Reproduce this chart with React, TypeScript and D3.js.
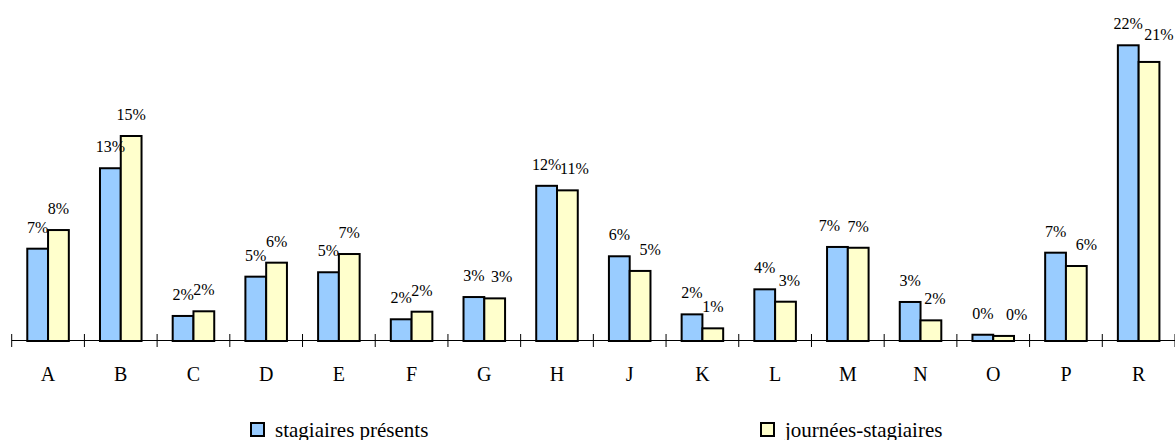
import React from "react";
import * as d3 from "d3";

// values in percent
const categories = ["A", "B", "C", "D", "E", "F", "G", "H", "J", "K", "L", "M", "N", "O", "P", "R"];
const stagiairesPresents = [6.93, 12.97, 1.88, 4.83, 5.16, 1.63, 3.3, 11.65, 6.36, 2.0, 3.88, 7.06, 2.93, 0.47, 6.63, 22.2];
const journeesStagiaires = [8.33, 15.39, 2.23, 5.88, 6.53, 2.2, 3.2, 11.31, 5.26, 0.95, 2.95, 7.0, 1.55, 0.38, 5.63, 20.95];
const seriesNames = ["stagiaires présents", "journées-stagiaires"];
const seriesColors = ["#99CCFF", "#FFFFCC"];

// label shifts that the original renderer applied to avoid collisions
const labelShift: Array<Record<string, [number, number]>> = [
  { M: [-8, 0] },
  { G: [7, 0], H: [7, 0], J: [10, 0], L: [4, 0], N: [4, 0], O: [13, 0], P: [10, 0], R: [10, -6] },
];

const width = 1175;
const height = 440;
const axisY = 341;
const font = '"Liberation Serif", "Times New Roman", Times, "DejaVu Serif", serif';

const App = () => {
  const series = [stagiairesPresents, journeesStagiaires];

  const x = d3.scaleBand<string>().domain(categories).range([11.7, width]).padding(0);
  const xInner = d3
    .scaleBand<number>()
    .domain([0, 1])
    .range([0, x.bandwidth()])
    .paddingInner(0)
    .paddingOuter(0.75);
  const y = d3.scaleLinear().domain([0, 25]).range([axisY, axisY - 333]);

  const tickXs = categories
    .map((c) => x(c) as number)
    .concat([(x(categories[categories.length - 1]) as number) + x.bandwidth()]);

  const valueStyle = { fontFamily: font, fontSize: "16px" };
  const catStyle = { fontFamily: font, fontSize: "20px" };
  const legendStyle = { fontFamily: font, fontSize: "21px" };

  return (
    <div style={{ position: "absolute", left: 0, top: 0 }}>
      <svg width={width} height={height} style={{ display: "block", background: "#fff" }}>
        {/* bars */}
        {categories.map((c, i) => (
          <g key={c} transform={`translate(${x(c)},0)`}>
            {series.map((s, k) => (
              <rect
                key={k}
                x={xInner(k)}
                y={y(s[i])}
                width={xInner.bandwidth()}
                height={axisY - y(s[i])}
                fill={seriesColors[k]}
                stroke="#000"
                strokeWidth={2}
              />
            ))}
          </g>
        ))}

        {/* axis */}
        <line x1={11.7} x2={width} y1={axisY - 0.5} y2={axisY - 0.5} stroke="#000" strokeWidth={1} />
        {tickXs.map((tx, i) => (
          <line key={i} x1={tx} x2={tx} y1={axisY - 7} y2={axisY + 6} stroke="#000" strokeWidth={1} />
        ))}
        {categories.map((c) => (
          <text key={c} x={(x(c) as number) + x.bandwidth() / 2} y={381} textAnchor="middle" style={catStyle}>
            {c}
          </text>
        ))}

        {/* value labels */}
        {categories.map((c, i) =>
          series.map((s, k) => {
            const [dx, dy] = labelShift[k][c] || [0, 0];
            return (
              <text
                key={`${c}-${k}`}
                x={(x(c) as number) + (xInner(k) as number) + xInner.bandwidth() / 2 + dx}
                y={y(s[i]) - 16 + dy}
                textAnchor="middle"
                style={valueStyle}
              >
                {`${Math.round(s[i])}%`}
              </text>
            );
          })
        )}

        {/* legend */}
        {seriesNames.map((name, k) => {
          const lx = k === 0 ? 251 : 761;
          return (
            <g key={name} transform={`translate(${lx},423)`}>
              <rect x={0} y={0} width={13} height={13} fill={seriesColors[k]} stroke="#000" strokeWidth={2} />
              <text x={24} y={13.5} style={legendStyle}>
                {name}
              </text>
            </g>
          );
        })}
      </svg>
    </div>
  );
};

export default App;
